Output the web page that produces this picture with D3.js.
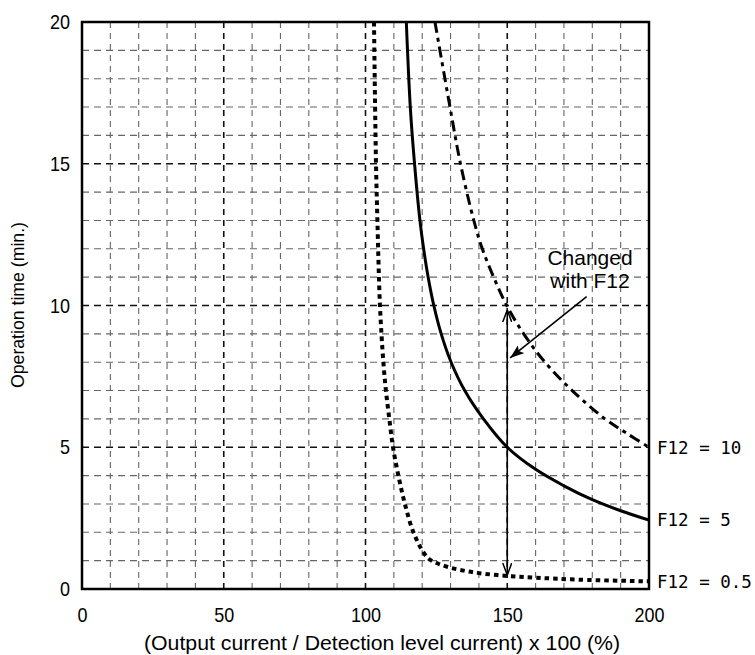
<!DOCTYPE html>
<html>
<head>
<meta charset="utf-8">
<script src="https://cdn.jsdelivr.net/npm/d3@7"></script>
<style>
  html, body { margin: 0; padding: 0; background: #fff; }
  svg { display: block; }
</style>
</head>
<body>
<svg id="chart" width="755" height="655"></svg>
<script>
// ---- data ----
const xTickValues = [0, 50, 100, 150, 200];
const yTickValues = [0, 5, 10, 15, 20];
const xGridValues = [10, 20, 30, 40, 50, 60, 70, 80, 90, 100, 110, 120, 130, 140, 150, 160, 170, 180, 190];
const yGridValues = [1, 2, 3, 4, 5, 6, 7, 8, 9, 10, 11, 12, 13, 14, 15, 16, 17, 18, 19];
const majorX = [50, 100, 150];
const majorY = [5, 10, 15];

// F12 = 5 (solid)
const f5Current = [114.4, 115.8, 117.3, 119.2, 120.5, 122.1, 124.1, 126.7, 130.2, 135.0, 141.6, 150, 160, 170, 180, 190, 200];
const f5Time    = [20, 17, 15, 13, 12, 11, 10, 9, 8, 7, 6, 5, 4.22, 3.64, 3.15, 2.76, 2.43];

// F12 = 10 (dash-dot)
const f10Current = [124.5, 129.8, 133.5, 138.2, 141.2, 145.2, 149.8, 155.8, 163.3, 172.9, 184.5, 192.0, 200];
const f10Time    = [20, 17, 15, 13, 12, 11, 10, 9, 8, 7, 6, 5.5, 5.0];

// F12 = 0.5 (dotted)
const f05Current = [103.0, 103.7, 104.2, 105.1, 106.3, 107.2, 108.4, 109.7, 111.6, 113.9, 116.9, 120.4, 122.5, 125.5, 130, 135, 140, 150, 160, 175, 200];
const f05Time    = [20, 15, 13, 10, 8, 7, 6, 5, 4, 3, 2, 1.3, 1.05, 0.9, 0.75, 0.64, 0.56, 0.46, 0.4, 0.33, 0.27];

const seriesLabels = ["F12 = 10", "F12 = 5", "F12 = 0.5"];
const annotationLines = ["Changed", "with F12"];
const xTitle = "(Output current / Detection level current) x 100 (%)";
const yTitle = "Operation time (min.)";

// vertical arrow (x=150) from/to, diagonal arrow start/tip
const vArrow = { x: 150, from: 0.49, to: 9.84 };
const dArrow = { x1: 178.0, y1: 10.31, x2: 151.0, y2: 8.15 };
const annotationPos = { x: 179.2, y1: 11.43, y2: 10.62 };

// ---- layout ----
const svg = d3.select("#chart");
const margin = { left: 82, top: 22 };
const W = 567, H = 567;
const x = d3.scaleLinear().domain([0, 200]).range([margin.left, margin.left + W]);
const y = d3.scaleLinear().domain([0, 20]).range([margin.top + H, margin.top]);

const defs = svg.append("defs");
defs.append("clipPath").attr("id", "plotclip")
  .append("rect").attr("x", x(0)).attr("y", y(20)).attr("width", W).attr("height", H);
defs.append("marker").attr("id", "openArrow")
  .attr("viewBox", "0 0 12 10").attr("refX", 12).attr("refY", 5)
  .attr("markerWidth", 12).attr("markerHeight", 10).attr("markerUnits", "userSpaceOnUse")
  .attr("orient", "auto-start-reverse")
  .append("path").attr("d", "M0,0.5 L12,5 L0,9.5").attr("fill", "none")
  .attr("stroke", "#000").attr("stroke-width", 1.5);
defs.append("marker").attr("id", "solidArrow")
  .attr("viewBox", "0 0 14 10").attr("refX", 14).attr("refY", 5)
  .attr("markerWidth", 14).attr("markerHeight", 10).attr("markerUnits", "userSpaceOnUse")
  .attr("orient", "auto")
  .append("path").attr("d", "M0,0 L14,5 L0,10 L3,5 Z").attr("fill", "#000");

// ---- grid ----
const grid = svg.append("g");
grid.selectAll(".vg").data(xGridValues).enter().append("line")
  .attr("x1", d => x(d)).attr("x2", d => x(d))
  .attr("y1", y(0)).attr("y2", y(20))
  .attr("stroke", d => majorX.includes(d) ? "#111" : "#666")
  .attr("stroke-width", d => majorX.includes(d) ? 1.6 : 1.1)
  .attr("stroke-dasharray", "6,5");
grid.selectAll(".hg").data(yGridValues).enter().append("line")
  .attr("y1", d => y(d)).attr("y2", d => y(d))
  .attr("x1", x(0)).attr("x2", x(200))
  .attr("stroke", d => majorY.includes(d) ? "#111" : "#666")
  .attr("stroke-width", d => majorY.includes(d) ? 1.6 : 1.1)
  .attr("stroke-dasharray", "7,5");

// ---- curves ----
const line = d3.line().x(d => x(d[0])).y(d => y(d[1])).curve(d3.curveCatmullRom.alpha(0.5));
const curves = svg.append("g").attr("clip-path", "url(#plotclip)");
curves.append("path").datum(d3.zip(f05Current, f05Time)).attr("d", line)
  .attr("fill", "none").attr("stroke", "#000").attr("stroke-width", 4)
  .attr("stroke-dasharray", "4.5,4");
curves.append("path").datum(d3.zip(f5Current, f5Time)).attr("d", line)
  .attr("fill", "none").attr("stroke", "#000").attr("stroke-width", 3);
curves.append("path").datum(d3.zip(f10Current, f10Time)).attr("d", line)
  .attr("fill", "none").attr("stroke", "#000").attr("stroke-width", 3)
  .attr("stroke-dasharray", "11,5,4,5");

// ---- arrows ----
svg.append("line")
  .attr("x1", x(vArrow.x)).attr("x2", x(vArrow.x))
  .attr("y1", y(vArrow.from)).attr("y2", y(vArrow.to))
  .attr("stroke", "#000").attr("stroke-width", 1.6)
  .attr("marker-start", "url(#openArrow)").attr("marker-end", "url(#openArrow)");
svg.append("line")
  .attr("x1", x(dArrow.x1)).attr("y1", y(dArrow.y1))
  .attr("x2", x(dArrow.x2)).attr("y2", y(dArrow.y2))
  .attr("stroke", "#000").attr("stroke-width", 1.6)
  .attr("marker-end", "url(#solidArrow)");

svg.selectAll(".ann").data(annotationLines).enter().append("text")
  .attr("x", x(annotationPos.x))
  .attr("y", (d, i) => y(i === 0 ? annotationPos.y1 : annotationPos.y2))
  .attr("text-anchor", "middle")
  .attr("font-family", "'Liberation Sans', Arial, sans-serif")
  .attr("font-size", 21).attr("fill", "#000")
  .text(d => d);

// ---- frame ----
svg.append("rect").attr("x", x(0)).attr("y", y(20)).attr("width", W).attr("height", H)
  .attr("fill", "none").attr("stroke", "#000").attr("stroke-width", 2.5);

// ---- axes ----
const xAxis = svg.append("g").attr("transform", `translate(0,${y(0)})`)
  .call(d3.axisBottom(x).tickValues(xTickValues).tickSize(0).tickPadding(26));
const yAxis = svg.append("g").attr("transform", `translate(${x(0)},0)`)
  .call(d3.axisLeft(y).tickValues(yTickValues).tickSize(0).tickPadding(12));
[xAxis, yAxis].forEach(g => {
  g.select(".domain").remove();
  g.selectAll("text")
    .attr("font-family", "'Liberation Sans', Arial, sans-serif")
    .attr("font-size", 21).attr("fill", "#000")
    .attr("textLength", d => String(d).length * 10)
    .attr("lengthAdjust", "spacingAndGlyphs");
});
xAxis.selectAll("text").attr("dy", "0.35em");

// ---- series labels ----
const labelValues = [f10Time[f10Time.length - 1], f5Time[f5Time.length - 1], f05Time[f05Time.length - 1]];
svg.selectAll(".slab").data(seriesLabels).enter().append("text")
  .attr("x", x(200) + 8)
  .attr("y", (d, i) => y(labelValues[i]))
  .attr("dy", "0.36em")
  .attr("font-family", "'DejaVu Sans Mono', monospace")
  .attr("font-size", 17.5).attr("fill", "#000")
  .text(d => d);

// ---- axis titles ----
svg.append("text")
  .attr("x", 382).attr("y", 650)
  .attr("text-anchor", "middle")
  .attr("font-family", "'Liberation Sans', Arial, sans-serif")
  .attr("font-size", 20).attr("fill", "#000")
  .attr("textLength", 476).attr("lengthAdjust", "spacingAndGlyphs")
  .text(xTitle);
svg.append("text")
  .attr("transform", `translate(24,305) rotate(-90)`)
  .attr("text-anchor", "middle")
  .attr("font-family", "'Liberation Sans', Arial, sans-serif")
  .attr("font-size", 18).attr("fill", "#000")
  .attr("textLength", 166).attr("lengthAdjust", "spacingAndGlyphs")
  .text(yTitle);
</script>
</body>
</html>
